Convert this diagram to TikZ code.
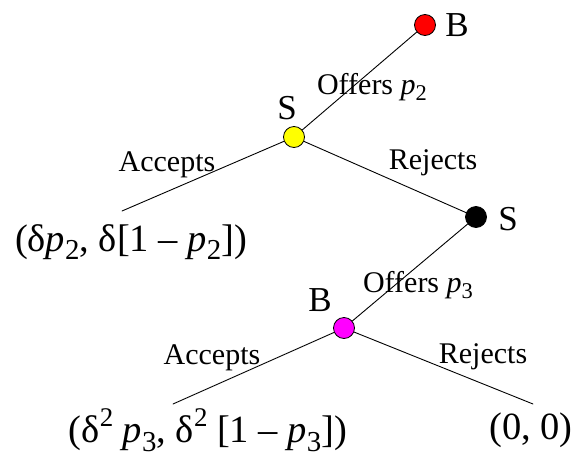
\documentclass[tikz,border=0pt]{standalone}
\usepackage{fontspec}
\setmainfont{Liberation Serif}
\newcommand{\pv}[1]{\textit{p}\raisebox{-.22em}{\scalebox{.75}{#1}}}
\newcommand{\sq}{\raisebox{.42em}{\scalebox{.7}{2}}}
\definecolor{nodered}{RGB}{255,0,0}
\definecolor{nodeyellow}{RGB}{255,255,0}
\definecolor{nodemagenta}{RGB}{255,0,255}
\begin{document}
\begin{tikzpicture}[x=1pt,y=-1pt,line join=round,line cap=round,line width=.9pt,
	dot/.style={circle,draw,line width=.8pt,minimum size=21pt,inner sep=0pt},
	big/.style={font=\fontsize{35}{38}\selectfont},
	pay/.style={font=\fontsize{38.5}{40}\selectfont,inner sep=0pt},
	lab/.style={font=\fontsize{30}{33}\selectfont}]
	\useasboundingbox (0,0) rectangle (576,458);
	\foreach \x/\y/\c/\n in {425/25/nodered/b1,294/137/nodeyellow/s1,476/217/black/s2,344/328/nodemagenta/b2}\path(\x,\y)node[dot,fill=\c](\n){};
	\foreach \x/\y/\n in {122/211/a1,173/404/a2,533/404/r2}\coordinate(\n) at (\x,\y);
	\foreach \x/\y in {s1/b1,s1/a1,s1/s2,b2/s2,b2/a2,b2/r2}\draw(\x)--(\y);
	% players
	\foreach \x/\y/\g/\n in {457/25/B/lb1,287/108/S/ls1,508/219/S/ls2,320/300/B/lb2}\path(\x,\y)node[big](\n){\g};
	% moves
	\foreach \x/\y/\g/\n in {372/87/Offers \pv{2}/m1,167/165/Accepts/m2,433/163/Rejects/m3,418/285/Offers \pv{3}/m4,212/358/Accepts/m5,483/357/Rejects/m6}\path(\x,\y)node[lab](\n){\g};
	% payoffs
	\path(131,242)node[pay](u1){(δ\pv{2}, δ[1 – \pv{2}])}
		(208,430)node[pay](u2){(δ\sq{} \pv{3}, δ\sq{} [1 – \pv{3}])}
		(531,430)node[pay](u3){(0, 0)};
\end{tikzpicture}
\end{document}
